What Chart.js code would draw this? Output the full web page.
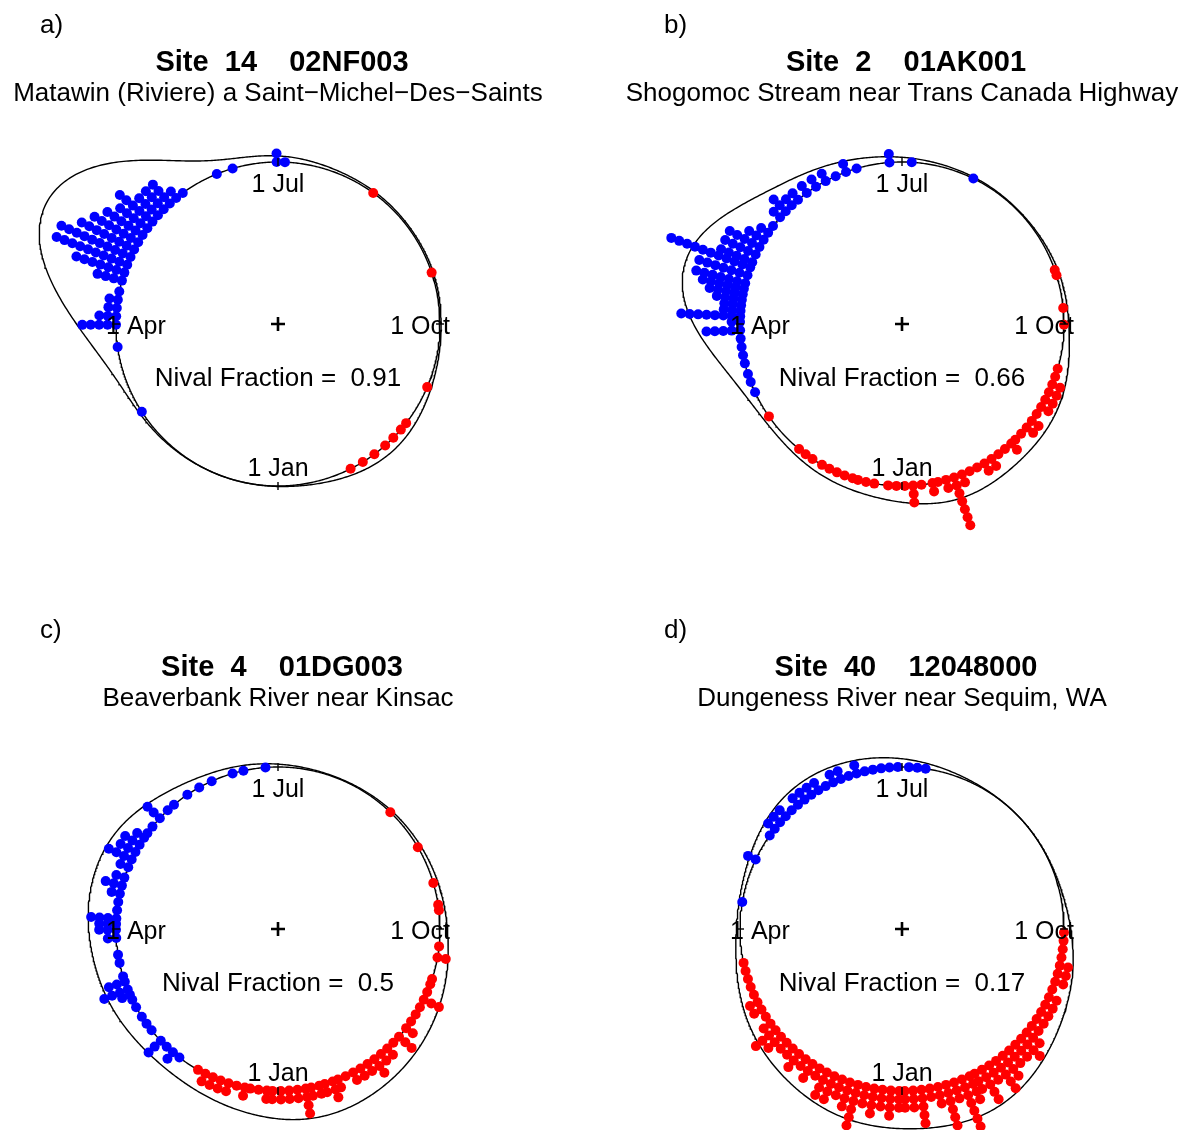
<!DOCTYPE html>
<html>
<head>
<meta charset="utf-8">
<script src="https://cdn.jsdelivr.net/npm/chart.js@4.4.1/dist/chart.umd.min.js"></script>
<style>
  html, body { margin: 0; padding: 0; background: #fff; width: 1182px; height: 1130px; overflow: hidden; }
  .panel { position: absolute; width: 624px; height: 605px; }
  .panel canvas { display: block; }
</style>
</head>
<body>
<div class="panel" style="left:0;top:0"><canvas id="pa" width="624" height="605"></canvas></div>
<div class="panel" style="left:624px;top:0"><canvas id="pb" width="624" height="605"></canvas></div>
<div class="panel" style="left:0;top:605px"><canvas id="pc" width="624" height="605"></canvas></div>
<div class="panel" style="left:624px;top:605px"><canvas id="pd" width="624" height="605"></canvas></div>
<script>
// ---- Dial labels (day offset from 1 Jan) ----
const tickLabels = ['1 Jan', '1 Apr', '1 Jul', '1 Oct'];
const tickDays = [0, 91.25, 182.5, 273.75];

// ---- Panel headings ----
const panelLetters = ['a)', 'b)', 'c)', 'd)'];
const siteTitles = ['Site  14    02NF003', 'Site  2    01AK001', 'Site  4    01DG003', 'Site  40    12048000'];
const siteNames = [
  'Matawin (Riviere) a Saint\u2212Michel\u2212Des\u2212Saints',
  'Shogomoc Stream near Trans Canada Highway',
  'Beaverbank River near Kinsac',
  'Dungeness River near Sequim, WA'
];
const nivalFractions = [0.91, 0.66, 0.5, 0.17];

// ---- Annual peak timing: day of year (binned) and number of years in each bin ----
// Site 14
const nivalDaysA   = [58, 83, 91, 94, 97, 100, 103, 107, 110, 113, 116, 119, 122, 125, 128, 131, 134, 137, 140, 143, 146, 160, 166, 182, 185];
const nivalCountsA = [1, 1, 5, 3, 2, 2, 1, 4, 7, 10, 10, 8, 7, 6, 5, 6, 4, 4, 4, 2, 1, 1, 1, 2, 1];
const otherDaysA   = [219, 255, 297, 312, 315, 319, 323, 328, 333, 338];
const otherCountsA = [1, 1, 1, 1, 1, 1, 1, 1, 1, 1];

// Site 2
const nivalDaysB   = [66, 70, 73, 77, 80, 83, 86, 89, 92, 94, 96, 98, 100, 102, 104, 106, 109, 112, 114, 117, 120, 123, 126, 129, 133, 136, 139, 142, 146, 150, 154, 158, 162, 166, 178, 186, 209];
const nivalCountsB = [1, 1, 1, 1, 1, 1, 1, 5, 2, 8, 3, 3, 4, 5, 6, 7, 7, 11, 5, 5, 5, 3, 2, 1, 2, 3, 2, 2, 2, 2, 2, 1, 2, 1, 2, 1, 1];
const otherDaysB   = [2, 5, 10, 13, 16, 18, 21, 24, 27, 30, 34, 37, 40, 56, 254, 256, 268, 274, 290, 293, 296, 299, 302, 305, 308, 311, 314, 317, 320, 322, 325, 328, 331, 334, 337, 340, 343, 346, 349, 352, 354, 358, 361, 364];
const otherCountsB = [1, 1, 1, 1, 1, 1, 1, 1, 1, 1, 1, 1, 1, 1, 1, 1, 1, 1, 1, 1, 2, 2, 2, 2, 1, 2, 2, 1, 1, 2, 1, 1, 2, 2, 1, 1, 2, 7, 2, 1, 2, 1, 3, 1];

// Site 4
const nivalDaysC   = [38, 41, 44, 47, 52, 55, 58, 62, 65, 67, 69, 72, 74, 79, 82, 88, 91, 93, 95, 98, 101, 104, 107, 110, 114, 117, 120, 123, 126, 128, 131, 135, 139, 142, 148, 153, 158, 166, 170, 178];
const nivalCountsC = [1, 2, 1, 3, 1, 1, 1, 1, 1, 2, 4, 3, 1, 1, 1, 2, 3, 3, 4, 1, 1, 2, 3, 2, 2, 4, 3, 3, 2, 1, 1, 3, 1, 1, 1, 1, 1, 1, 1, 1];
const otherDaysC   = [227, 243, 257, 265, 267, 280, 284, 292, 294, 297, 300, 303, 306, 309, 312, 316, 319, 322, 325, 328, 331, 334, 337, 340, 343, 345, 348, 350, 353, 355, 358, 361, 364, 2, 4, 7, 10, 12, 15, 18, 21, 24, 27, 30];
const otherCountsC = [1, 1, 1, 1, 1, 1, 2, 1, 1, 1, 3, 1, 1, 1, 2, 3, 1, 2, 2, 3, 2, 2, 2, 1, 2, 3, 2, 2, 2, 4, 2, 2, 2, 2, 2, 1, 1, 2, 1, 2, 2, 2, 2, 1];

// Site 40
const nivalDaysD   = [101, 117, 127, 130, 133, 136, 139, 142, 145, 148, 151, 154, 157, 160, 163, 166, 169, 172, 175, 178, 181, 185, 188, 191];
const nivalCountsD = [1, 2, 1, 2, 2, 2, 1, 2, 2, 2, 2, 1, 2, 2, 1, 2, 1, 1, 1, 1, 1, 1, 1, 1];
const otherDaysD   = [275, 278, 281, 284, 287, 290, 293, 296, 299, 302, 305, 308, 311, 314, 317, 320, 323, 326, 329, 332, 335, 338, 340, 343, 346, 349, 352, 355, 358, 361, 364, 1, 4, 7, 10, 13, 16, 19, 22, 25, 28, 31, 34, 37, 40, 43, 46, 49, 52, 55, 58, 61, 64, 67, 70, 73, 76, 79];
const otherCountsD = [1, 1, 1, 1, 2, 2, 2, 1, 2, 2, 2, 2, 2, 3, 4, 3, 3, 4, 5, 3, 5, 3, 4, 7, 3, 6, 3, 2, 5, 3, 3, 3, 4, 3, 4, 3, 6, 4, 3, 4, 4, 2, 3, 2, 3, 2, 2, 3, 4, 2, 1, 2, 2, 1, 1, 1, 1, 1];

// ---- Drawing constants ----
const W = 624, H = 605;          // panel size in px
const CX = 278, CY = 324;        // dial centre in px
const RPX = 162;                 // dial radius in px
const STACK_STEP = 0.052;        // radial spacing of stacked dots (dial radii)
const KAPPA = 17;                // von Mises kernel concentration
const SHRINK = 0.62;             // density scale added to the dial radius
const LABEL_R = 0.877;
const DOT_R = 5;
const FONT = '"Liberation Sans", Arial, Helvetica, sans-serif';

function toXY(day, r) {
  const a = 2 * Math.PI * day / 365;
  return { x: -r * Math.sin(a), y: -r * Math.cos(a) };
}

function stackPoints(days, counts) {
  const pts = [];
  days.forEach((d, i) => {
    for (let k = 0; k < counts[i]; k++) pts.push(toXY(d, 1 + STACK_STEP * k));
  });
  return pts;
}

function besselI0(k) {
  let s = 1, t = 1;
  for (let m = 1; m < 80; m++) { t *= (k / 2) * (k / 2) / (m * m); s += t; }
  return s;
}

// Circular kernel density of all peak dates, drawn as 1 + SHRINK * f
function densityPoints(dayLists, countLists) {
  const angles = [], weights = [];
  dayLists.forEach((days, j) => days.forEach((d, i) => {
    angles.push(2 * Math.PI * d / 365); weights.push(countLists[j][i]);
  }));
  const total = weights.reduce((a, b) => a + b, 0);
  const norm = 2 * Math.PI * besselI0(KAPPA) * Math.exp(-KAPPA);
  const pts = [];
  for (let s = 0; s <= 720; s++) {
    const a = s / 720 * 2 * Math.PI;
    let f = 0;
    for (let i = 0; i < angles.length; i++) f += weights[i] * Math.exp(KAPPA * (Math.cos(a - angles[i]) - 1));
    f /= (total * norm);
    const r = 1 + SHRINK * f;
    pts.push({ x: -r * Math.sin(a), y: -r * Math.cos(a) });
  }
  return pts;
}

function circlePoints() {
  const pts = [];
  for (let s = 0; s <= 720; s++) pts.push(toXY(s / 720 * 365, 1));
  return pts;
}

const dialText = {
  id: 'dialText',
  afterDatasetsDraw(chart, args, opts) {
    const { ctx } = chart;
    const xs = chart.scales.x, ys = chart.scales.y;
    ctx.save();
    ctx.fillStyle = '#000';
    ctx.textAlign = 'left';
    ctx.textBaseline = 'alphabetic';
    ctx.font = '26px ' + FONT;
    ctx.fillText(opts.letter, 40, 33);
    ctx.textAlign = 'center';
    ctx.font = 'bold 29px ' + FONT;
    ctx.fillText(opts.title, 282, 71);
    ctx.font = '26px ' + FONT;
    ctx.fillText(opts.sub, 278, 101);
    ctx.textBaseline = 'middle';
    ctx.font = '25px ' + FONT;
    tickLabels.forEach((t, i) => {
      const p = toXY(tickDays[i], LABEL_R);
      ctx.fillText(t, xs.getPixelForValue(p.x), ys.getPixelForValue(p.y) + 3);
    });
    ctx.font = '26px ' + FONT;
    ctx.fillText('Nival Fraction =  ' + String(opts.frac), xs.getPixelForValue(0), ys.getPixelForValue(0) + 55);
    ctx.restore();
  }
};

function makePanel(id, idx, nd, nc, od, oc) {
  const tickPts = tickDays.map(d => toXY(d, 1));
  const tickRot = tickDays.map(d => 90 - d / 365 * 360);
  new Chart(document.getElementById(id), {
    type: 'scatter',
    data: {
      datasets: [
        { data: [{ x: 0, y: 0 }], pointStyle: 'cross', pointRadius: 7, borderColor: '#000', borderWidth: 2.6, order: 0 },
        { data: tickPts, pointStyle: 'line', pointRadius: 4, rotation: tickRot, borderColor: '#000', borderWidth: 1.4, order: 0 },
        { data: stackPoints(nd, nc), pointRadius: DOT_R, backgroundColor: '#0000FF', borderWidth: 0, order: 1 },
        { data: stackPoints(od, oc), pointRadius: DOT_R, backgroundColor: '#FF0000', borderWidth: 0, order: 1 },
        { data: densityPoints([nd, od], [nc, oc]), showLine: true, pointRadius: 0, borderColor: '#000', borderWidth: 1.4, tension: 0, order: 2 },
        { data: circlePoints(), showLine: true, pointRadius: 0, borderColor: '#000', borderWidth: 1.4, tension: 0, order: 2 }
      ]
    },
    options: {
      responsive: false,
      animation: false,
      events: [],
      devicePixelRatio: 1,
      layout: { padding: 0, autoPadding: false },
      scales: {
        x: { type: 'linear', display: false, min: -CX / RPX, max: (W - CX) / RPX },
        y: { type: 'linear', display: false, min: -(H - CY) / RPX, max: CY / RPX }
      },
      plugins: {
        legend: { display: false },
        tooltip: { enabled: false },
        dialText: { letter: panelLetters[idx], title: siteTitles[idx], sub: siteNames[idx], frac: nivalFractions[idx] }
      }
    },
    plugins: [dialText]
  });
}

makePanel('pa', 0, nivalDaysA, nivalCountsA, otherDaysA, otherCountsA);
makePanel('pb', 1, nivalDaysB, nivalCountsB, otherDaysB, otherCountsB);
makePanel('pc', 2, nivalDaysC, nivalCountsC, otherDaysC, otherCountsC);
makePanel('pd', 3, nivalDaysD, nivalCountsD, otherDaysD, otherCountsD);
</script>
</body>
</html>
